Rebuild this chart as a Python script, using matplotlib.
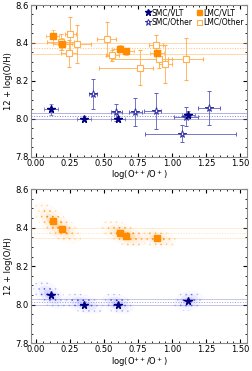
import numpy as np
import matplotlib.pyplot as plt
from matplotlib.patches import Polygon
from matplotlib.ticker import MultipleLocator

plt.rcParams['font.family'] = ['DejaVu Sans']
plt.rcParams['font.size'] = 6
plt.rcParams['hatch.linewidth'] = 0.5

# SMC / VLT
smc_vlt_x = [0.11, 0.35, 0.60, 1.12]
smc_vlt_y = [8.05, 8.00, 8.00, 8.02]
smc_vlt_xe = [0.05, 0.05, 0.05, 0.05]
smc_vlt_ye = [0.03, 0.012, 0.012, 0.02]

# SMC / other
smc_oth_x = [0.42, 0.59, 0.73, 0.88, 1.07, 1.10, 1.27]
smc_oth_y = [8.13, 8.035, 8.035, 8.04, 7.92, 8.01, 8.055]
smc_oth_xlo = [0.03, 0.04, 0.05, 0.09, 0.27, 0.09, 0.08]
smc_oth_xhi = [0.03, 0.04, 0.05, 0.04, 0.40, 0.09, 0.08]
smc_oth_ye = [0.08, 0.045, 0.075, 0.095, 0.045, 0.05, 0.09]

# LMC / VLT
lmc_vlt_x = [0.12, 0.19, 0.62, 0.66, 0.89]
lmc_vlt_y = [8.435, 8.395, 8.37, 8.355, 8.345]
lmc_vlt_xe = [0.05, 0.07, 0.06, 0.06, 0.05]
lmc_vlt_ye = [0.035, 0.03, 0.02, 0.02, 0.02]

# LMC / other
lmc_oth_x = [0.18, 0.25, 0.24, 0.30, 0.52, 0.56, 0.76, 0.88, 0.90, 0.95, 1.10]
lmc_oth_y = [8.405, 8.445, 8.345, 8.395, 8.42, 8.335, 8.27, 8.39, 8.315, 8.29, 8.315]
lmc_oth_xlo = [0.10, 0.04, 0.06, 0.10, 0.07, 0.05, 0.30, 0.05, 0.35, 0.05, 0.13]
lmc_oth_xhi = [0.10, 0.04, 0.06, 0.10, 0.07, 0.05, 0.10, 0.05, 0.10, 0.05, 0.13]
lmc_oth_ye = [0.04, 0.09, 0.07, 0.10, 0.09, 0.03, 0.09, 0.05, 0.05, 0.10, 0.11]

# mean +/- sigma lines
smc_mean, smc_sig = 8.013, 0.017
lmc_mean, lmc_sig = 8.372, 0.028

# Monte Carlo clouds (bottom panel): centre, 1-sigma spreads, correlation
smc_cloud_x = [0.10, 0.35, 0.60, 1.12]
smc_cloud_y = [8.05, 8.005, 8.005, 8.02]
smc_cloud_sx = [0.050, 0.060, 0.050, 0.045]
smc_cloud_sy = [0.030, 0.022, 0.022, 0.022]
smc_cloud_rho = [-0.5, -0.4, -0.3, 0.2]

lmc_cloud_x = [0.12, 0.20, 0.63, 0.68, 0.89]
lmc_cloud_y = [8.435, 8.39, 8.37, 8.355, 8.345]
lmc_cloud_sx = [0.055, 0.055, 0.065, 0.055, 0.06]
lmc_cloud_sy = [0.04, 0.03, 0.028, 0.022, 0.022]
lmc_cloud_rho = [-0.6, -0.5, -0.5, -0.4, -0.3]

navy = '#00007f'
blue_eb = '#6060c0'
orange = '#ff8c00'
orange_eb = '#ffb050'


def style(ax):
    ax.set_xlim(-0.04, 1.55)
    ax.set_ylim(7.8, 8.6)
    ax.xaxis.set_major_locator(MultipleLocator(0.25))
    ax.xaxis.set_minor_locator(MultipleLocator(0.05))
    ax.yaxis.set_major_locator(MultipleLocator(0.2))
    ax.yaxis.set_minor_locator(MultipleLocator(0.05))
    ax.tick_params(which='both', direction='in', top=True, right=True,
                   labelsize=6, pad=1.5)
    ax.tick_params(which='major', length=3)
    ax.tick_params(which='minor', length=1.5)
    for s in ax.spines.values():
        s.set_color('#888888')
    ax.set_xlabel('log(O$^{++}$/O$^+$)', fontsize=6, labelpad=0.5)
    ax.set_ylabel('12 + log(O/H)', fontsize=6, labelpad=2)


def mean_lines(ax, m, s, c, alpha):
    ax.axhline(m, color=c, lw=0.7, ls=':', alpha=alpha)
    ax.axhline(m + s, color=c, lw=0.6, alpha=alpha * 0.7)
    ax.axhline(m - s, color=c, lw=0.6, alpha=alpha * 0.7)


def cloud(ax, cx, cy, sx, sy, rho, c, a0):
    t = np.linspace(0, 2 * np.pi, 60)
    for k, a in [(2.4, 0.3), (1.6, 0.55), (0.9, 1.0)]:
        xs = cx + k * sx * np.cos(t)
        ys = cy + k * sy * (rho * np.cos(t) + np.sqrt(1 - rho ** 2) * np.sin(t))
        ax.add_patch(Polygon(np.column_stack([xs, ys]), closed=True,
                             facecolor='none', edgecolor=c, hatch='...',
                             lw=0, alpha=min(1, a * a0)))
        ax.add_patch(Polygon(np.column_stack([xs, ys]), closed=True,
                             facecolor=c, edgecolor='none', alpha=a * a0 * 0.15))


fig = plt.figure(figsize=(2.52, 3.71), dpi=100)
ax1 = fig.add_axes([0.122, 0.578, 0.858, 0.4085])
ax2 = fig.add_axes([0.122, 0.075, 0.858, 0.415])

# top panel
mean_lines(ax1, smc_mean, smc_sig, blue_eb, 0.8)
mean_lines(ax1, lmc_mean, lmc_sig, orange_eb, 0.8)

ax1.errorbar(lmc_oth_x, lmc_oth_y, xerr=[lmc_oth_xlo, lmc_oth_xhi], yerr=lmc_oth_ye,
             fmt='s', ms=4, mfc='white', mec=orange_eb, mew=0.8,
             ecolor=orange_eb, elinewidth=0.6, capsize=1.3, capthick=0.5,
             label='LMC/Other')
ax1.errorbar(lmc_vlt_x, lmc_vlt_y, xerr=lmc_vlt_xe, yerr=lmc_vlt_ye,
             fmt='s', ms=4, mfc=orange, mec=orange, ecolor=orange_eb,
             elinewidth=0.6, capsize=1.3, capthick=0.5, label='LMC/VLT')
ax1.errorbar(smc_oth_x, smc_oth_y, xerr=[smc_oth_xlo, smc_oth_xhi], yerr=smc_oth_ye,
             fmt='*', ms=5.5, mfc='white', mec='#3030a0', mew=0.7,
             ecolor=blue_eb, elinewidth=0.6, capsize=1.3, capthick=0.5,
             label='SMC/Other')
ax1.errorbar(smc_vlt_x, smc_vlt_y, xerr=smc_vlt_xe, yerr=smc_vlt_ye,
             fmt='*', ms=5.5, mfc=navy, mec=navy, ecolor=blue_eb,
             elinewidth=0.6, capsize=1.3, capthick=0.5, label='SMC/VLT')

h, l = ax1.get_legend_handles_labels()
order = [3, 2, 1, 0]
leg = ax1.legend([h[i][0] for i in order], [l[i] for i in order], ncol=2,
                 loc='upper right', frameon=False, fontsize=5.5,
                 handlelength=0.7, handletextpad=0.2, columnspacing=0.5,
                 labelspacing=0.1, borderaxespad=0.2, borderpad=0.2,
                 markerscale=0.9)
style(ax1)

# bottom panel
mean_lines(ax2, smc_mean, smc_sig, blue_eb, 0.6)
mean_lines(ax2, lmc_mean, lmc_sig, orange_eb, 0.4)
for i in range(len(smc_cloud_x)):
    cloud(ax2, smc_cloud_x[i], smc_cloud_y[i], smc_cloud_sx[i], smc_cloud_sy[i],
          smc_cloud_rho[i], 'blue', 0.6)
for i in range(len(lmc_cloud_x)):
    cloud(ax2, lmc_cloud_x[i], lmc_cloud_y[i], lmc_cloud_sx[i], lmc_cloud_sy[i],
          lmc_cloud_rho[i], orange, 0.7)
ax2.plot(smc_vlt_x, smc_vlt_y, '*', ms=5.5, color=navy, ls='none')
ax2.plot(lmc_vlt_x, lmc_vlt_y, 's', ms=4, color=orange, ls='none')
style(ax2)

fig.savefig('out.png', dpi=100)
